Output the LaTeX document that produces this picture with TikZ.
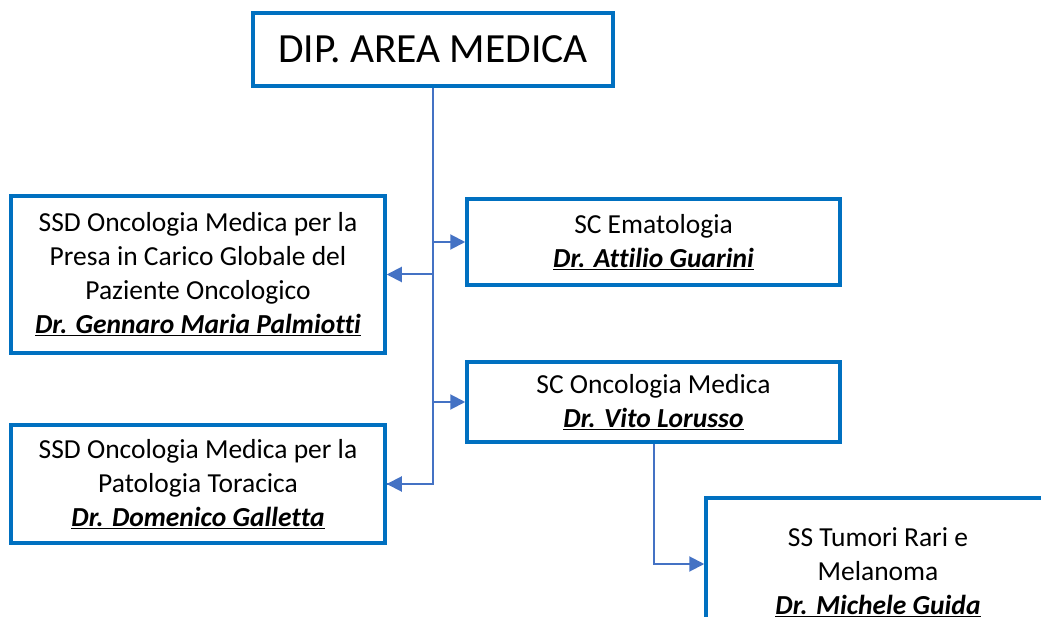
\documentclass[tikz,border=0pt]{standalone}
\usepackage{fontspec}
\setmainfont{Carlito}[Ligatures=NoCommon]
\usepackage{tikz}
\usetikzlibrary{arrows.meta}
\definecolor{boxblue}{RGB}{0,112,192}
\definecolor{lineblue}{RGB}{68,114,196}

\tikzset{
  unit/.style={draw=boxblue, line width=3.5pt, fill=white, align=center,
    font=\fontsize{27.5}{34}\selectfont, inner sep=0pt},
  link/.style={draw=lineblue, line width=2pt},
  tolink/.style={link, -{Triangle[length=15pt,width=15pt]}}
}
\newcommand{\doc}[1]{\underline{\textbf{\textit{#1}}}}

\begin{document}
\begin{tikzpicture}[x=1pt,y=-1pt]

\useasboundingbox (0,0) rectangle (1041,617);
\clip (0,0) rectangle (1041,617);

\node[unit, minimum width=360pt, minimum height=73pt, font=\fontsize{41.5}{48}\selectfont] (dip) at (433,49.5) {DIP. AREA MEDICA};

\node[unit, minimum width=374pt, minimum height=157pt] (ssdpresa) at (198,274.5)
  {SSD Oncologia Medica per la\\Presa in Carico Globale del\\Paziente Oncologico\\\doc{Dr. Gennaro Maria Palmiotti}};
\node[unit, minimum width=374pt, minimum height=118pt] (ssdtorace) at (198,484)
  {SSD Oncologia Medica per la\\Patologia Toracica\\\doc{Dr. Domenico Galletta}};
\node[unit, minimum width=373pt, minimum height=86pt] (scemato) at (653.5,242)
  {SC Ematologia\\\doc{Dr. Attilio Guarini}};
\node[unit, minimum width=373pt, minimum height=80pt] (sconco) at (653.5,402)
  {SC Oncologia Medica\\\doc{Dr. Vito Lorusso}};
\node[unit, minimum width=344pt, minimum height=148pt] (sstumori) at (878,572)
  {SS Tumori Rari e\\Melanoma\\\doc{Dr. Michele Guida}};

\draw[link] (dip.south) |- (ssdtorace.east);
\draw[tolink] (dip.south |- scemato.west) -- (scemato.west);
\draw[tolink] (dip.south |- ssdpresa.east) -- (ssdpresa.east);
\draw[tolink] (dip.south |- sconco.west) -- (sconco.west);
\draw[tolink] (dip.south |- ssdtorace.east) -- (ssdtorace.east);
\draw[tolink] (sconco.south) |- ([yshift=8pt]sstumori.west);
\end{tikzpicture}
\end{document}
